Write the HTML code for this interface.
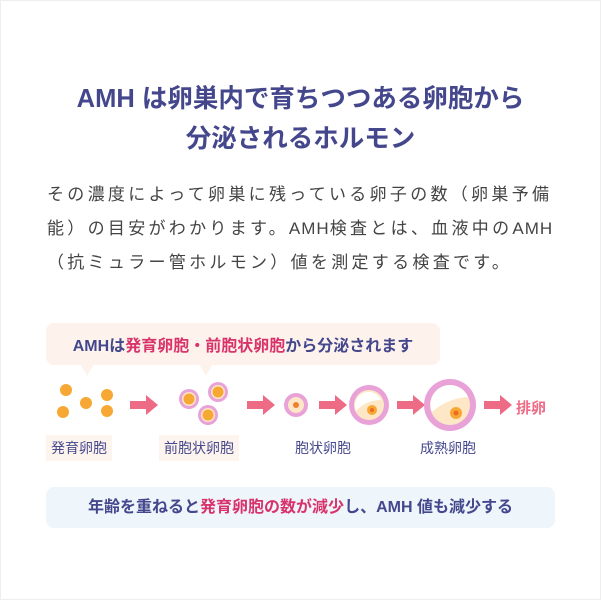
<!DOCTYPE html><html><head><meta charset="utf-8"><style>
body{margin:0;width:601px;height:600px;background:#fff;font-family:"Liberation Sans","Noto Sans CJK JP",sans-serif;position:relative;overflow:hidden}
.a{position:absolute}
.t{left:0;width:601px;text-align:center;color:#44478c;font-weight:bold;font-size:25.5px}
.p{left:47px;width:525px;color:#444;font-size:17px;letter-spacing:3.3px;line-height:34px}
.p b{font-weight:normal;letter-spacing:1px}
.lb{font-size:14px;color:#44478c;background:#fdf4ee;padding:3px 5px}
.pk{color:#d8336b}
</style></head><body>
<div class="a" style="left:0;top:0;width:599px;height:598px;border:1px solid #eee"></div>
<div class="a t" style="top:78px">AMH は卵巣内で育ちつつある卵胞から</div>
<div class="a t" style="top:118px">分泌されるホルモン</div>
<div class="a p" style="top:178px">その濃度によって卵巣に残っている卵子の数（卵巣予備<br>能）の目安がわかります。<b>AMH</b>検査とは、血液中の<b>AMH</b><br>（抗ミュラー管ホルモン）値を測定する検査です。</div>
<div class="a" style="left:46px;top:323px;width:394px;height:42px;background:#fdf3ec;border-radius:8px"></div>
<div class="a" style="left:80px;top:364px;border-left:7px solid transparent;border-right:7px solid transparent;border-top:12px solid #fdf3ec"></div>
<div class="a" style="left:199px;top:364px;border-left:7px solid transparent;border-right:7px solid transparent;border-top:12px solid #fdf3ec"></div>
<div class="a" style="left:46px;top:332px;width:394px;text-align:center;font-weight:bold;font-size:16px;color:#44478c">AMHは<span class="pk">発育卵胞・前胞状卵胞</span>から分泌されます</div>
<svg class="a" style="left:0;top:370px" width="601" height="70">
<defs><g id="ar"><rect x="0" y="-4" width="18" height="8" fill="#ee6b86"/><polygon points="16,-10 28,0 16,10" fill="#ee6b86"/></g></defs>
<g fill="#f7a834"><circle cx="66" cy="20" r="6"/><circle cx="86" cy="33" r="6"/><circle cx="107" cy="25" r="6"/><circle cx="63" cy="42" r="6"/><circle cx="107" cy="41" r="6"/></g>
<use href="#ar" x="130" y="35"/>
<g><circle cx="189" cy="29" r="10" fill="#e8a2d8"/><circle cx="189" cy="29" r="7" fill="#fde7c7"/><circle cx="189" cy="29" r="5.5" fill="#f7a834"/>
<circle cx="218" cy="22" r="10" fill="#e8a2d8"/><circle cx="218" cy="22" r="7" fill="#fde7c7"/><circle cx="218" cy="22" r="5.5" fill="#f7a834"/>
<circle cx="208" cy="45" r="10" fill="#e8a2d8"/><circle cx="208" cy="45" r="7" fill="#fde7c7"/><circle cx="208" cy="45" r="5.5" fill="#f7a834"/></g>
<use href="#ar" x="247" y="35"/>
<circle cx="296" cy="35" r="12" fill="#e8a2d8"/><circle cx="296" cy="35" r="8" fill="#fde7c7"/><circle cx="296" cy="35" r="3" fill="#f08030"/>
<use href="#ar" x="319" y="35"/>
<circle cx="369" cy="35" r="20" fill="#e8a2d8"/><circle cx="369" cy="35" r="15" fill="#fde7c7"/><path d="M356 41 A13 13 0 1 1 381 30 Q366 30 356 41Z" fill="#fff"/><circle cx="372" cy="40" r="5" fill="#f7a834"/><circle cx="372" cy="40" r="2" fill="#f06a20"/>
<use href="#ar" x="397" y="35"/>
<circle cx="450" cy="35" r="26" fill="#e8a2d8"/><circle cx="450" cy="35" r="20" fill="#fde7c7"/><path d="M432 42 A19 19 0 1 1 468 27 Q448 28 432 42Z" fill="#fff"/><circle cx="456" cy="43" r="6" fill="#f7a834"/><circle cx="456" cy="43" r="2.5" fill="#f06a20"/>
<use href="#ar" x="484" y="35"/>
<text x="516" y="43" font-size="15" font-weight="bold" fill="#ee6b86" font-family="Liberation Sans,Noto Sans CJK JP,sans-serif">排卵</text>
</svg>
<div class="a lb" style="left:46px;top:435px">発育卵胞</div>
<div class="a lb" style="left:159px;top:435px">前胞状卵胞</div>
<div class="a" style="left:295px;top:438px;font-size:14px;color:#44478c">胞状卵胞</div>
<div class="a" style="left:420px;top:438px;font-size:14px;color:#44478c">成熟卵胞</div>
<div class="a" style="left:46px;top:487px;width:509px;height:41px;background:#eef6fc;border-radius:8px;text-align:center;line-height:41px;font-weight:bold;font-size:16px;color:#44478c">年齢を重ねると<span class="pk">発育卵胞の数が減少</span>し、AMH 値も減少する</div>
</body></html>
